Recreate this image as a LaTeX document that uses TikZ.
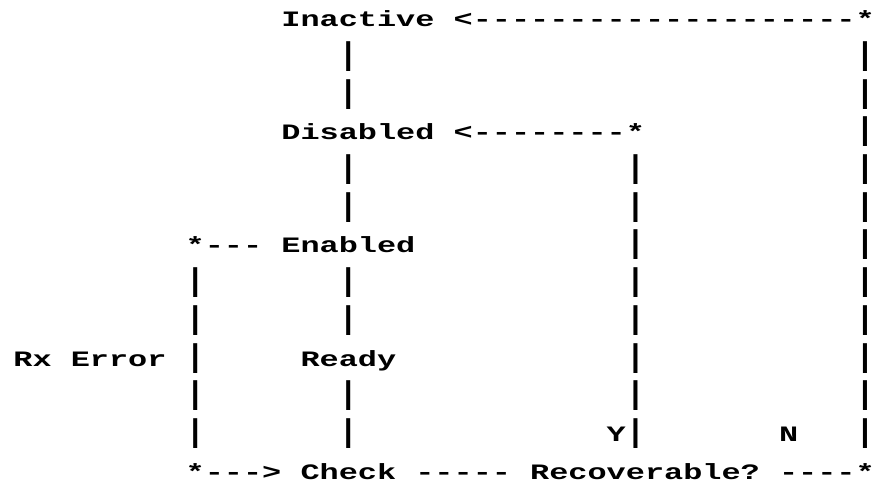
\documentclass[tikz,border=0pt]{standalone}
\usepackage{fontspec}
\newfontfamily\monobold{Liberation Mono}[FakeStretch=1.45]
\newfontfamily\monobar{Liberation Mono}

\newcommand*{\colw}{19.14pt}
\newcommand*{\rowh}{37.7pt}

\begin{document}
\begin{tikzpicture}
[
	x=\colw, y=-\rowh,
	tok/.style={anchor=base west,inner sep=0pt,outer sep=0pt,font=\monobold\bfseries\fontsize{22}{26}\selectfont},
	bar/.style={anchor=base,inner sep=0pt,outer sep=0pt,font=\monobar\bfseries\fontsize{31.5}{36}\selectfont}
]
	\useasboundingbox (-13.4pt,26.7pt) rectangle (861.6pt,-460.3pt);

	% states
	\node[tok] (inactive) at (14,0) {Inactive};
	\node[tok] (disabled) at (14,3) {Disabled};
	\node[tok] (enabled) at (14,6) {Enabled};
	\node[tok] (ready) at (15,9) {Ready};
	\node[tok] (check) at (15,12) {Check};
	\node[tok] (recover) at (27,12) {Recoverable?};

	% labels
	\node[tok] (rx) at (0,9) {Rx};
	\node[tok] (error) at (3,9) {Error};
	\node[tok] (yes) at (31,11) {Y};
	\node[tok] (no) at (40,11) {N};

	% horizontal runs
	\node[tok] (inactive-in) at (23,0) {<--------------------*};
	\node[tok] (disabled-in) at (23,3) {<--------*};
	\node[tok] (enabled-out) at (9,6) {*---};
	\node[tok] (check-in) at (9,12) {*--->};
	\node[tok] (check-out) at (21,12) {-----};
	\node[tok] (recover-out) at (40,12) {----*};

	% vertical runs (bar sits in the middle of its column)
	\foreach \r in {7,...,11} {
		\node[bar] (bar-a\r) at (9.5,\r) {|};
	}
	\foreach \r in {1,2,4,5,7,8,10,11} {
		\node[bar] (bar-b\r) at (17.5,\r) {|};
	}
	\foreach \r in {4,...,11} {
		\node[bar] (bar-c\r) at (32.5,\r) {|};
	}
	\foreach \r in {1,...,11} {
		\node[bar] (bar-d\r) at (44.5,\r) {|};
	}

\end{tikzpicture}
\end{document}
